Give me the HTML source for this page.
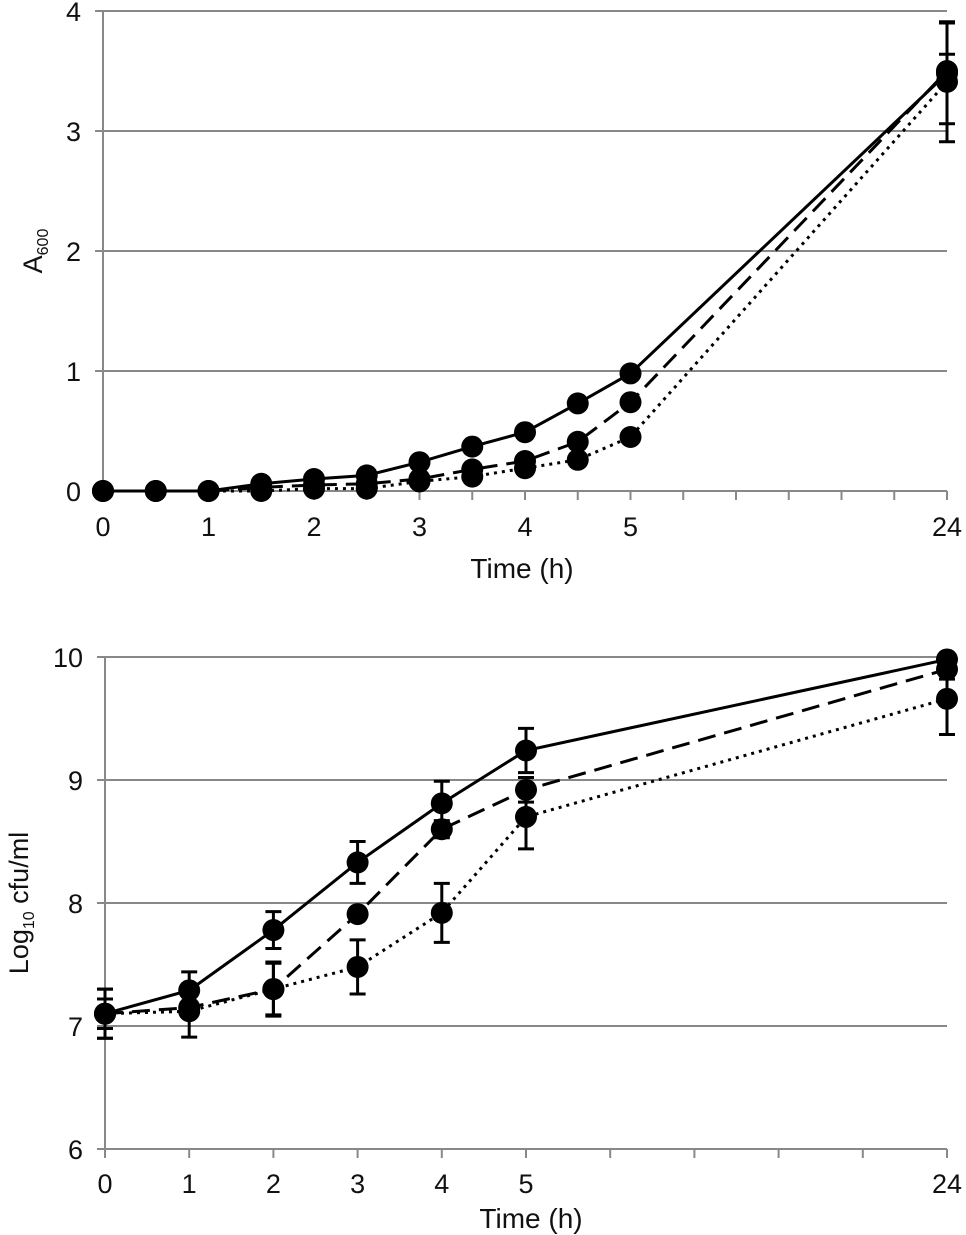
<!DOCTYPE html>
<html><head><meta charset="utf-8"><style>
html,body{margin:0;padding:0;background:#fff;}
svg{display:block;font-family:"Liberation Sans",sans-serif;}
</style></head><body>
<svg id="chart" width="966" height="1235"></svg>
<script>
const topCats=[0,0.5,1,1.5,2,2.5,3,3.5,4,4.5,5,24];
const topIdx=[0,1,2,3,4,5,6,7,8,9,10,16];
const topSolid=[0,0,0,0.06,0.1,0.13,0.24,0.37,0.49,0.73,0.98,3.48];
const topDashed=[0,0,0,0.03,0.05,0.06,0.1,0.18,0.25,0.41,0.74,3.5];
const topDotted=[0,0,0,0,0.02,0.02,0.08,0.12,0.19,0.26,0.45,3.41];
const topErrSolid=[0,0,0,0,0,0,0,0,0,0,0,0.42];
const topErrDashed=[0,0,0,0,0,0,0,0,0,0,0,0.14];
const topErrDotted=[0,0,0,0,0,0,0,0,0,0,0,0.5];
const topYTicks=[0,1,2,3,4];
const topXLabels=["0","1","2","3","4","5","24"];
const topXLabelIdx=[0,2,4,6,8,10,16];

const botCats=[0,1,2,3,4,5,24];
const botIdx=[0,1,2,3,4,5,10];
const botSolid=[7.1,7.29,7.78,8.33,8.81,9.24,9.98];
const botDashed=[7.1,7.15,7.3,7.91,8.6,8.92,9.9];
const botDotted=[7.1,7.12,7.3,7.48,7.92,8.7,9.66];
const botErrSolid=[0.2,0.15,0.15,0.17,0.18,0.18,0.02];
const botErrDashed=[0.12,0.05,0.21,0.04,0.07,0.1,0.08];
const botErrDotted=[0.2,0.21,0.22,0.22,0.24,0.26,0.29];
const botYTicks=[6,7,8,9,10];
const botXLabels=["0","1","2","3","4","5","24"];
const botXLabelIdx=[0,1,2,3,4,5,10];

const svg=document.getElementById('chart');
const NS='http://www.w3.org/2000/svg';
function mk(tag,attrs,parent){const e=document.createElementNS(NS,tag);for(const k in attrs)e.setAttribute(k,attrs[k]);(parent||svg).appendChild(e);return e;}

function panel(o){
  const g=mk('g',{});
  
  
  const xs=i=>o.x0+i*o.dx;
  const ys=v=>o.y0-(v-o.ymin)*o.dy;
  const xEnd=947;
  o.yTicks.forEach(t=>{
    const yy=ys(t);
    if(t!==o.ymin){
      const l=mk('line',{x1:o.x0-8,x2:xEnd,y1:yy,y2:yy,stroke:'#888','stroke-width':2},g);
      
      
    } else {
      mk('line',{x1:o.x0-8,x2:o.x0,y1:yy,y2:yy,stroke:'#888','stroke-width':2},g);
    }
    const tx=mk('text',{x:o.x0-22,y:yy+10,'text-anchor':'end','font-size':27,fill:'#111'},g);
    tx.textContent=t;
    
    
  });
  const ax=mk('line',{x1:o.x0,x2:xEnd,y1:ys(o.ymin),y2:ys(o.ymin),stroke:'#888','stroke-width':2},g);
  
  
  const ay=mk('line',{x1:o.x0,x2:o.x0,y1:ys(o.ymin),y2:ys(o.yTicks[o.yTicks.length-1]),stroke:'#888','stroke-width':2},g);
  
  
  for(let i=0;i<=o.nTicks;i++){
    mk('line',{x1:xs(i),x2:xs(i),y1:ys(o.ymin),y2:ys(o.ymin)+9,stroke:'#888','stroke-width':2},g);
  }
  o.xLabels.forEach((l,k)=>{
    const t=mk('text',{x:xs(o.xLabelIdx[k]),y:ys(o.ymin)+o.xLabOff,'text-anchor':'middle','font-size':27,fill:'#111'},g);
    t.textContent=l;
    
    
  });
  const xt=mk('text',{x:o.xTitleX,y:ys(o.ymin)+o.xTitleOff,'text-anchor':'middle','font-size':28,fill:'#111'},g);
  xt.textContent='Time (h)';
  
  
  const yt=mk('text',{transform:`translate(${o.yTitleX},${o.yTitleY}) rotate(-90)`,'text-anchor':'middle','font-size':27,fill:'#111'},g);
  yt.innerHTML=o.yTitle;
  
  
  const series=[[o.dotted,'3,5','dotted',o.eDotted],[o.dashed,'18,9','dashed',o.eDashed],[o.solid,'','solid',o.eSolid]];
  series.forEach(([vals,dash,nm,errs])=>{
    const pts=vals.map((v,i)=>xs(o.idx[i])+','+ys(v)).join(' ');
    const p=mk('polyline',{points:pts,fill:'none',stroke:'#000','stroke-width':3,'stroke-dasharray':dash},g);
    
    
  });
  series.forEach(([vals,dash,nm,errs])=>{
    vals.forEach((v,i)=>{
      const x=xs(o.idx[i]);
      if(errs[i]>0){
        const e=mk('path',{d:`M${x},${ys(v+errs[i])}V${ys(v-errs[i])}M${x-8},${ys(v+errs[i])}h16M${x-8},${ys(v-errs[i])}h16`,stroke:'#000','stroke-width':3,fill:'none'},g);
        
        
      }
      const c=mk('circle',{cx:x,cy:ys(v),r:11,fill:'#000'},g);
      
      
    });
  });
}
panel({name:'a600-chart',x0:103,dx:52.75,y0:491,dy:120,ymin:0,yTicks:topYTicks,nTicks:16,
  idx:topIdx,solid:topSolid,dashed:topDashed,dotted:topDotted,eSolid:topErrSolid,eDashed:topErrDashed,eDotted:topErrDotted,
  xLabels:topXLabels,xLabelIdx:topXLabelIdx,xTitleX:522,xLabOff:45,xTitleOff:87,yTitleX:42,yTitleY:251,
  yTitle:'A<tspan font-size="16" dy="6">600</tspan>'});
panel({name:'cfu-chart',x0:105,dx:84.2,y0:1149,dy:123,ymin:6,yTicks:botYTicks,nTicks:10,
  idx:botIdx,solid:botSolid,dashed:botDashed,dotted:botDotted,eSolid:botErrSolid,eDashed:botErrDashed,eDotted:botErrDotted,
  xLabels:botXLabels,xLabelIdx:botXLabelIdx,xTitleX:531,xLabOff:44,xTitleOff:79,yTitleX:28,yTitleY:903,
  yTitle:'Log<tspan font-size="16" dy="6">10</tspan><tspan dy="-6"> cfu/ml</tspan>'});
</script>
</body></html>
